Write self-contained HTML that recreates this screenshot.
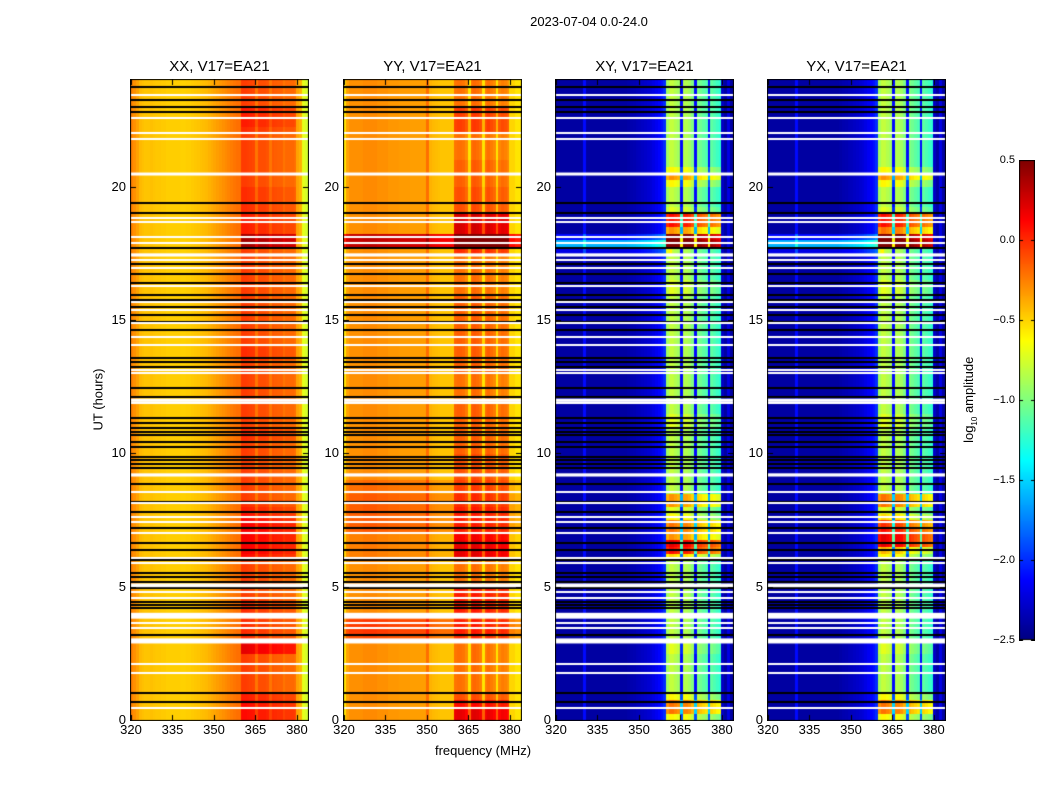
<!DOCTYPE html>
<html><head><meta charset="utf-8">
<style>
html,body{margin:0;padding:0;background:#fff;}
#root{position:relative;width:1050px;height:800px;font-family:"Liberation Sans","DejaVu Sans",sans-serif;color:#000;overflow:hidden;}
.t{position:absolute;white-space:nowrap;}
canvas{position:absolute;}
</style></head>
<body>
<div id="root">
<div class="t" style="left:489px;top:14px;width:200px;text-align:center;font-size:13px;">2023-07-04 0.0-24.0</div>
<div class="t" style="left:48px;top:392px;width:100px;text-align:center;font-size:13px;transform:rotate(-90deg);">UT (hours)</div>
<div class="t" style="left:403px;top:743px;width:160px;text-align:center;font-size:13px;">frequency (MHz)</div>
<div class="t" style="left:900px;top:391px;width:140px;text-align:center;font-size:13px;transform:rotate(-90deg);">log<sub style="font-size:8px">10</sub> amplitude</div>
<canvas id="cbar" width="16" height="481" style="left:1019px;top:160px;"></canvas>
</div>
<script>
// ---- data ----
const panelTitles = ["XX, V17=EA21","YY, V17=EA21","XY, V17=EA21","YX, V17=EA21"];
const xTicks = [320,335,350,365,380];
const yTicks = [0,5,10,15,20];
const cbarTicks = [0.5,0.0,-0.5,-1.0,-1.5,-2.0,-2.5];
const freqStart = 320, freqStep = 1;
// spectra: log10 amplitude per 1 MHz channel, 320..383
const xxSpec = [-0.25,-0.3,-0.35,-0.42,-0.44,-0.45,-0.45,-0.44,-0.45,-0.46,-0.46,-0.47,-0.47,-0.48,-0.48,-0.48,-0.48,-0.48,-0.49,-0.49,-0.48,-0.48,-0.47,-0.46,-0.45,-0.44,-0.43,-0.42,-0.4,-0.38,-0.36,-0.34,-0.32,-0.3,-0.28,-0.26,-0.24,-0.22,-0.2,-0.2,
 -0.05,-0.05,-0.06,-0.07,-0.08,-0.22,-0.1,-0.1,-0.1,-0.12,-0.22,-0.14,-0.15,-0.16,-0.16,-0.22,-0.18,-0.18,-0.18,-0.2,-0.35,-0.4,-0.7,-0.75];
const yySpec = [-0.55,-0.35,-0.3,-0.3,-0.3,-0.3,-0.3,-0.28,-0.28,-0.28,-0.28,-0.28,-0.3,-0.3,-0.3,-0.3,-0.32,-0.32,-0.32,-0.32,-0.33,-0.33,-0.33,-0.33,-0.34,-0.34,-0.34,-0.34,-0.34,-0.34,-0.2,-0.4,-0.42,-0.43,-0.44,-0.45,-0.45,-0.45,-0.45,-0.45,
 -0.22,-0.2,-0.2,-0.22,-0.28,-0.55,-0.2,-0.18,-0.2,-0.24,-0.55,-0.24,-0.2,-0.24,-0.28,-0.55,-0.28,-0.24,-0.26,-0.3,-0.5,-0.5,-0.55,-0.55];
const xySpec = [-2.4,-2.4,-2.4,-2.4,-2.4,-2.4,-2.4,-2.4,-2.4,-2.4,-2.1,-2.4,-2.4,-2.4,-2.4,-2.4,-2.4,-2.4,-2.4,-2.4,-2.4,-2.4,-2.4,-2.4,-2.4,-2.4,-2.38,-2.36,-2.35,-2.33,-2.32,-2.3,-2.28,-2.26,-2.24,-2.2,-2.16,-2.12,-2.08,-2.0,
 -0.9,-0.8,-0.8,-0.85,-0.9,-2.1,-0.85,-0.85,-0.9,-1.0,-2.1,-1.0,-1.05,-1.1,-1.15,-2.1,-1.1,-1.15,-1.2,-1.25,-2.3,-2.4,-2.2,-2.4];
const yxSpec = [-2.4,-2.4,-2.4,-2.4,-2.4,-2.4,-2.4,-2.4,-2.4,-2.4,-2.1,-2.4,-2.4,-2.4,-2.4,-2.4,-2.4,-2.4,-2.4,-2.4,-2.4,-2.4,-2.4,-2.4,-2.4,-2.4,-2.38,-2.36,-2.35,-2.33,-2.32,-2.3,-2.28,-2.26,-2.24,-2.2,-2.16,-2.12,-2.08,-2.0,
 -0.9,-0.8,-0.8,-0.85,-0.9,-2.1,-0.85,-0.85,-0.9,-1.0,-2.1,-1.0,-1.05,-1.1,-1.15,-2.1,-1.1,-1.15,-1.2,-1.25,-2.3,-2.4,-2.2,-2.4];
// row offsets, one per 15 min (96 rows, 0h..24h; 24 per line = 6h)
const xxBand = [
 0.15,0.15,0.15,0.1, 0,0,0,0, 0,0,0.25,0.25, 0.05,0.05,0.05,0.05, 0.05,0.05,0,0, 0,0,0,0,
 0.15,0.2,0.2,0.2, 0.2,0.2,0.15,0.1, 0.05,0,0,0, 0,0,0,0, 0,0,0.05,0.05, 0,0,0,0,
 0,0,0,0, 0,0,0.05,0.05, 0,0,0,0, 0,0,0,0, 0,0,0,0, 0,0,0,0.45,
 0.45,0.1,0.1,0.1, 0.05,0.05,0.05,0.05, 0,0,0,0, 0,0,0,0, 0.05,0.1,0.1,0.1];
const yyBand = [
 0.4,0.4,0.3,0.1, 0,0,0,0, 0,0,0,0, 0,0,0,0, 0.25,0.25,0.25,0.25, 0,0,0,0,
 0.35,0.35,0.35,0.3, 0.1,0.1,0.1,0.1, 0.05,0.05,0.05,0.05, 0.1,0.1,0.1,0.1, 0.05,0.05,0.05,0.05, 0.05,0.05,0.05,0.05,
 0,0,0,0, 0.05,0.05,0.05,0.05, 0.05,0.05,0.05,0.05, 0.05,0.05,0.05,0.05, 0,0,0,0, 0,0,0.2,0.45,
 0.45,0.45,0.45,0.45, 0.1,0.1,0.1,0.1, 0.05,0.05,0.05,0.05, 0,0,0,0, 0.15,0.15,0.15,0.15];
const yyAll = [
 0,0,0,0, 0,0,0,0, 0,0,0,0, 0.2,0.25,0.25,0.2, 0,0,0,0, 0,0,0,0,
 0.05,0.05,0.05,0.05, 0.15,0.15,0.15,0.15, 0.15,0.15,0.1,0.1, 0,0,0,0, 0,0,0,0, 0,0,0,0,
 0,0,0,0, 0,0,0,0, 0,0,0,0, 0,0,0,0, 0,0,0,0, 0,0,0,0.6,
 0.6,0,0,0, 0,0,0,0, 0,0,0,0, 0,0,0,0, 0,0,0,0, 0,0,0,0];
const xyBand = [
 0.2,0.6,0.6,0.2, 0,0,0,0, 0,0,0.1,0.1, 0,0,0,0, 0,0,0,0, 0,0,0,0,
 0.3,0.9,1.0,0.5, 0.6,0.6,0.2,0.1, 0.5,0.5,0,0, 0,0,0,0, 0,0,0,0, 0.1,0.1,0,0,
 0,0,0,0, 0,0,0,0, 0,0,0,0, 0,0,0,0, 0.1,0.1,0,0, 0,0,0,1.5,
 1.4,0.5,0.9,0.9, 0.1,0,0,0, 0.2,0.5,0.2,0, 0,0,0,0, 0,0,0,0, 0,0,0,0];
const yxBand = [
 0.2,0.6,0.6,0.2, 0,0,0,0, 0,0,0.1,0.1, 0,0,0,0, 0,0,0,0, 0,0,0,0,
 0.2,0.4,1.0,1.0, 0.9,0.8,0.3,0.1, 0.6,0.6,0,0, 0,0,0,0, 0,0,0,0, 0.1,0.1,0,0,
 0,0,0,0, 0,0,0,0, 0,0,0,0, 0,0,0,0, 0.1,0.1,0,0, 0,0,0,1.5,
 1.4,0.6,0.9,0.9, 0.1,0,0,0, 0.2,0.5,0.2,0, 0,0,0,0, 0,0,0,0, 0,0,0,0];
const crossAll = [
 0,0,0,0, 0,0,0,0, 0,0,0,0, 0,0,0,0, 0,0,0,0, 0,0,0,0,
 0,0,0,0, 0,0,0,0, 0,0,0,0, 0,0,0,0, 0,0,0,0, 0,0,0,0,
 0,0,0,0, 0,0,0,0, 0,0,0,0, 0,0,0,0, 0,0,0,0, 0,0,0.2,0.8,
 0.3,0,0,0, 0,0,0,0, 0,0,0,0, 0,0,0,0, 0,0,0,0, 0,0,0,0];
// flagged times (hours)
const blackFlags = [23.75,23.25,23.0,22.8,19.4,19.0,17.69,17.09,16.71,16.37,15.94,15.75,15.47,15.19,14.94,14.62,13.56,13.44,13.22,12.44,12.12,
 11.31,11.12,10.94,10.79,10.69,10.44,10.25,9.87,9.75,9.6,9.46,8.85,8.19,7.79,7.21,6.65,6.37,6.0,5.5,5.37,5.19,4.94,4.44,4.31,4.19,3.19,1.0,0.69];
const whiteFlags = [23.44,22.56,22.0,21.78,18.81,18.69,18.1,17.88,17.25,16.96,16.29,15.69,15.37,14.87,14.37,14.06,13.12,13.0,
 11.87,8.56,8.12,7.62,7.44,7.02,6.09,5.87,4.79,4.56,3.62,3.44,2.09,1.75,0.45];
const whiteBandStart = [20.42,17.38,11.93,9.13,4.98,3.80,2.87];
const whiteBandEnd   = [20.53,17.50,12.05,9.25,5.12,4.02,3.06];
const specs = [xxSpec,yySpec,xySpec,yxSpec];
const bandRows = [xxBand,yyBand,xyBand,yxBand];
const allRows = [null,yyAll,crossAll,crossAll];
// ---- layout ----
const panelLeft = [131,344,556,768], panelTop = 80, panelW = 177, panelH = 640;
const fMin = 320, fMax = 384, tMin = 0, tMax = 24, vMin = -2.5, vMax = 0.5;
function jet(v){
  let t=(v-vMin)/(vMax-vMin); if(!isFinite(t)) t=0; t=Math.max(0,Math.min(1,t));
  const c=x=>Math.round(255*Math.max(0,Math.min(1,x)));
  return `rgb(${c(1.5-Math.abs(4*t-3))},${c(1.5-Math.abs(4*t-2))},${c(1.5-Math.abs(4*t-1))})`;
}
const root=document.getElementById('root');
function xScale(f){return (f-fMin)/(fMax-fMin)*panelW;}
function yScale(h){return panelH-(h-tMin)/(tMax-tMin)*panelH;}
function txt(s,x,y,w,align,size,name){
  const d=document.createElement('div');d.className='t';d.textContent=s;
  
  
  d.style.left=x+'px';d.style.top=y+'px';d.style.width=w+'px';d.style.textAlign=align;d.style.fontSize=size+'px';
  root.appendChild(d);return d;
}
const nRows=96;
for(let p=0;p<4;p++){
  const cv=document.createElement('canvas');
  cv.width=panelW+2;cv.height=panelH+2;
  cv.style.left=(panelLeft[p]-1)+'px';cv.style.top=(panelTop-1)+'px';
  
  
  root.appendChild(cv);
  const g=cv.getContext('2d');g.translate(1,1);
  const spec=specs[p];
  for(let i=0;i<nRows;i++){
    const h0=i*24/nRows,h1=(i+1)*24/nRows;
    const y0=yScale(h1),y1=yScale(h0);
    for(let j=0;j<spec.length;j++){
      const f=freqStart+j*freqStep;
      let v=spec[j];
      if(f>=360&&f<380) v+=(bandRows[p][i]||0);
      if(allRows[p]){ const a=allRows[p][i]||0; if(p>=2){ if(f<362) v+=a; } else v+=a; }
      const x0=xScale(f),x1=xScale(f+freqStep);
      g.fillStyle=jet(v);g.fillRect(Math.floor(x0),Math.floor(y0),Math.ceil(x1)-Math.floor(x0),Math.ceil(y1)-Math.floor(y0));
    }
  }
  g.fillStyle='#000';
  blackFlags.forEach(h=>{g.fillRect(0,Math.round(yScale(h))-1,panelW,2);});
  g.fillStyle='#fff';
  whiteFlags.forEach(h=>{g.fillRect(0,Math.round(yScale(h))-1,panelW,2);});
  whiteBandStart.forEach((s,k)=>{const a=yScale(whiteBandEnd[k]),b=yScale(s);g.fillRect(0,a,panelW,Math.max(3,b-a));});
  g.strokeStyle='#000';g.lineWidth=1;g.strokeRect(-0.5,-0.5,panelW+1,panelH+1);
  g.beginPath();
  xTicks.forEach(f=>{const x=Math.round(xScale(f))+0.5;g.moveTo(x,panelH);g.lineTo(x,panelH-5);g.moveTo(x,0);g.lineTo(x,5);});
  yTicks.forEach(h=>{const y=Math.round(yScale(h))+0.5;g.moveTo(0,y);g.lineTo(5,y);g.moveTo(panelW,y);g.lineTo(panelW-5,y);});
  g.stroke();
  txt(panelTitles[p],panelLeft[p]-20,58,panelW+40,'center',15,'panel-title-'+p);
  xTicks.forEach(f=>txt(String(f),panelLeft[p]+xScale(f)-20,722,40,'center',13,'x-tick-'+f));
  yTicks.forEach(h=>txt(String(h),panelLeft[p]-45,panelTop+yScale(h)-8,40,'right',13,'y-tick-'+h));
}
// colorbar
const cb=document.getElementById('cbar'),cg=cb.getContext('2d');
for(let y=0;y<480;y++){cg.fillStyle=jet(vMax-(y/480)*(vMax-vMin));cg.fillRect(0,y,16,1);}
cg.strokeStyle='#000';cg.strokeRect(0.5,0.5,15,479);
cbarTicks.forEach(v=>{
  const y=(vMax-v)/(vMax-vMin)*480;
  cg.beginPath();cg.moveTo(0,Math.round(y)+0.5);cg.lineTo(4,Math.round(y)+0.5);cg.moveTo(16,Math.round(y)+0.5);cg.lineTo(12,Math.round(y)+0.5);cg.stroke();
  txt(v.toFixed(1).replace('-','\u2212'),965,160+y-6,50,'right',11,'colorbar-tick');
});
</script>
</body></html>
